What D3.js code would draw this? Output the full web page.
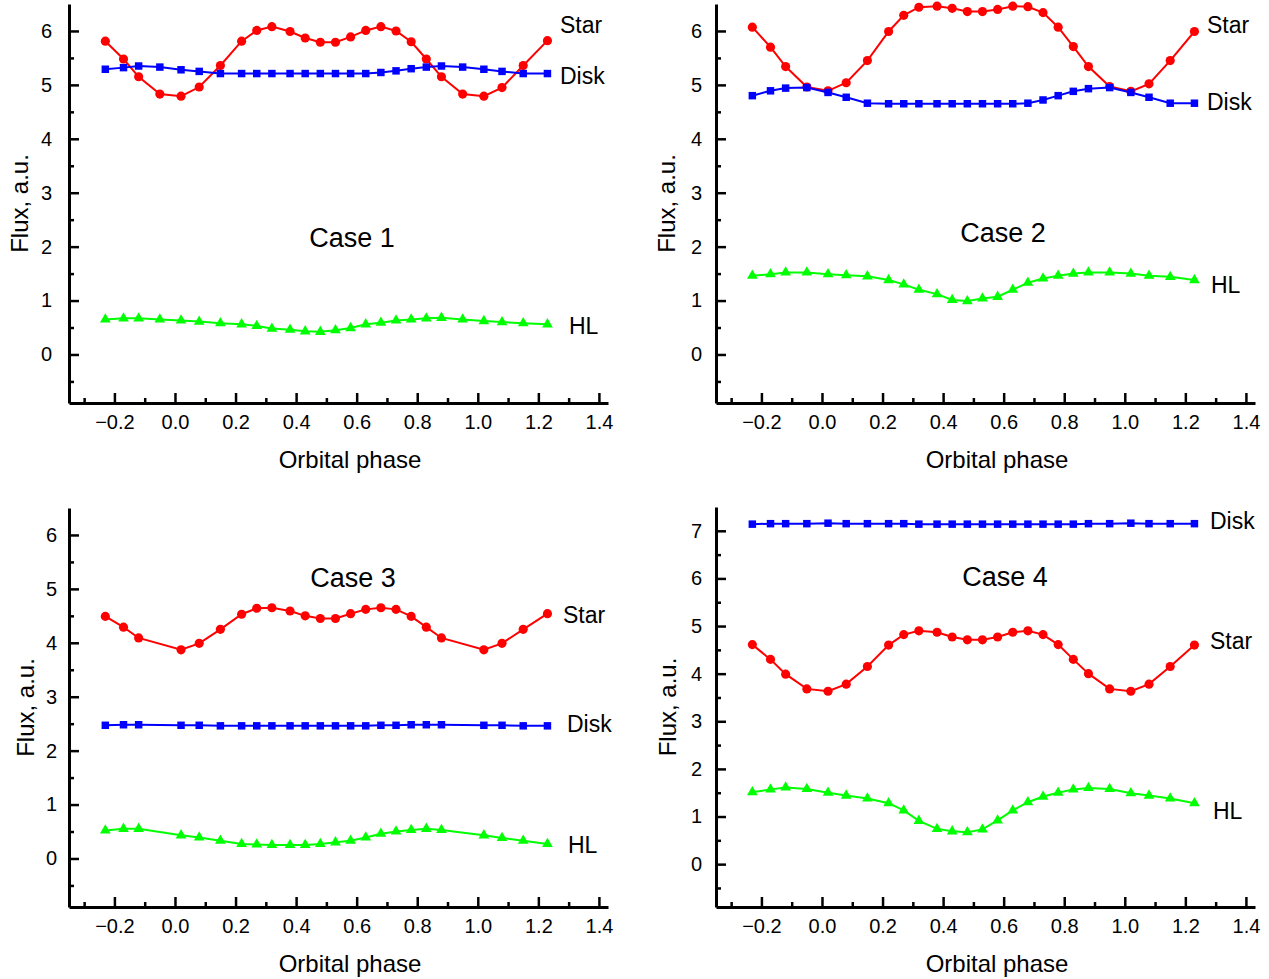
<!DOCTYPE html>
<html>
<head>
<meta charset="utf-8">
<script src="https://cdn.jsdelivr.net/npm/d3@7"></script>
<style>
  html, body { margin: 0; padding: 0; background: #fff; }
  svg { display: block; font-family: "Liberation Sans", Arial, sans-serif; }
</style>
</head>
<body>
<svg id="chart" width="1269" height="979"></svg>
<script>
// ---------------- DATA ----------------
const phase = [-0.23, -0.17, -0.12, -0.05, 0.02, 0.08, 0.15, 0.22, 0.27, 0.32, 0.38, 0.43, 0.48,
               0.53, 0.58, 0.63, 0.68, 0.73, 0.78, 0.83, 0.88, 0.95, 1.02, 1.08, 1.15, 1.23];

const xTicks = [-0.2, 0.0, 0.2, 0.4, 0.6, 0.8, 1.0, 1.2, 1.4];
const yTicks6 = [0, 1, 2, 3, 4, 5, 6];
const yTicks7 = [0, 1, 2, 3, 4, 5, 6, 7];

const seriesNames = ["Star", "Disk", "HL"];
const caseTitles = ["Case 1", "Case 2", "Case 3", "Case 4"];
const xTitle = "Orbital phase";
const yTitle = "Flux, a.u.";

// Case 1
const star1 = [5.81, 5.48, 5.15, 4.83, 4.79, 4.96, 5.36, 5.81, 6.01, 6.08, 5.99, 5.87, 5.79,
               5.79, 5.89, 6.01, 6.08, 6.00, 5.80, 5.48, 5.15, 4.83, 4.79, 4.95, 5.36, 5.82];
const disk1 = [5.29, 5.32, 5.35, 5.33, 5.28, 5.25, 5.21, 5.21, 5.21, 5.21, 5.21, 5.21, 5.21,
               5.21, 5.21, 5.21, 5.23, 5.26, 5.30, 5.33, 5.35, 5.33, 5.29, 5.25, 5.21, 5.21];
const hl1   = [0.65, 0.67, 0.67, 0.65, 0.63, 0.61, 0.58, 0.56, 0.53, 0.48, 0.46, 0.43, 0.42,
               0.45, 0.49, 0.56, 0.59, 0.63, 0.65, 0.67, 0.68, 0.65, 0.62, 0.60, 0.58, 0.56];

// Case 2
const star2 = [6.07, 5.70, 5.34, 4.96, 4.89, 5.04, 5.45, 5.99, 6.29, 6.44, 6.46, 6.42, 6.36,
               6.36, 6.40, 6.46, 6.45, 6.34, 6.07, 5.71, 5.34, 4.97, 4.88, 5.02, 5.45, 5.99];
const disk2 = [4.80, 4.89, 4.94, 4.95, 4.86, 4.77, 4.66, 4.65, 4.65, 4.65, 4.65, 4.65, 4.65,
               4.65, 4.65, 4.65, 4.66, 4.72, 4.80, 4.88, 4.93, 4.95, 4.86, 4.77, 4.66, 4.66];
const hl2   = [1.46, 1.49, 1.52, 1.52, 1.49, 1.47, 1.45, 1.38, 1.30, 1.20, 1.12, 1.01, 0.99,
               1.04, 1.07, 1.20, 1.33, 1.41, 1.46, 1.50, 1.52, 1.52, 1.50, 1.46, 1.44, 1.38];

// Case 3 (no points at phases -0.05 and 0.95)
const star3 = [4.49, 4.29, 4.09, null, 3.87, 3.99, 4.25, 4.53, 4.64, 4.65, 4.59, 4.50, 4.45,
               4.45, 4.54, 4.62, 4.65, 4.62, 4.49, 4.29, 4.09, null, 3.87, 3.99, 4.25, 4.54];
const disk3 = [2.47, 2.48, 2.48, null, 2.47, 2.47, 2.46, 2.46, 2.46, 2.46, 2.46, 2.46, 2.46,
               2.46, 2.46, 2.46, 2.47, 2.47, 2.48, 2.48, 2.48, null, 2.47, 2.47, 2.46, 2.46];
const hl3   = [0.52, 0.55, 0.55, null, 0.43, 0.39, 0.33, 0.27, 0.26, 0.25, 0.25, 0.25, 0.27,
               0.30, 0.33, 0.39, 0.46, 0.50, 0.53, 0.55, 0.53, null, 0.43, 0.38, 0.33, 0.27];

// Case 4
const star4 = [4.61, 4.30, 3.99, 3.68, 3.63, 3.78, 4.15, 4.60, 4.82, 4.90, 4.87, 4.77, 4.71,
               4.71, 4.77, 4.87, 4.90, 4.82, 4.61, 4.30, 4.00, 3.68, 3.63, 3.78, 4.15, 4.60];
const disk4 = [7.14, 7.15, 7.15, 7.15, 7.16, 7.15, 7.15, 7.15, 7.15, 7.14, 7.14, 7.14, 7.14,
               7.14, 7.14, 7.14, 7.14, 7.14, 7.14, 7.14, 7.15, 7.15, 7.16, 7.15, 7.15, 7.15];
const hl4   = [1.51, 1.57, 1.61, 1.58, 1.50, 1.44, 1.38, 1.28, 1.13, 0.91, 0.74, 0.69, 0.67,
               0.73, 0.92, 1.13, 1.30, 1.42, 1.50, 1.57, 1.60, 1.58, 1.49, 1.44, 1.38, 1.28];

// ---------------- LAYOUT ----------------
const colors = { Star: "#ff0000", Disk: "#0000ff", HL: "#00ff00" };

const panels = [
  { title: caseTitles[0], data: { Star: star1, Disk: disk1, HL: hl1 }, yTicks: yTicks6,
    yDom: [-0.9, 6.5], box: { l: 69, r: 608, t: 4, b: 403 }, ylabOff: 17, ytitleX: 20,
    titlePos: [352, 238], labels: { Star: [560, 25], Disk: [560, 76], HL: [569, 326] } },
  { title: caseTitles[1], data: { Star: star2, Disk: disk2, HL: hl2 }, yTicks: yTicks6,
    yDom: [-0.9, 6.5], box: { l: 716, r: 1255, t: 4, b: 403 }, ylabOff: 14, ytitleX: 667,
    titlePos: [1003, 233], labels: { Star: [1207, 25], Disk: [1207, 102], HL: [1211, 285] } },
  { title: caseTitles[2], data: { Star: star3, Disk: disk3, HL: hl3 }, yTicks: yTicks6,
    yDom: [-0.9, 6.5], box: { l: 69, r: 608, t: 508, b: 907 }, ylabOff: 12, ytitleX: 26,
    titlePos: [353, 578], labels: { Star: [563, 615], Disk: [567, 724], HL: [568, 845] } },
  { title: caseTitles[3], data: { Star: star4, Disk: disk4, HL: hl4 }, yTicks: yTicks7,
    yDom: [-0.9, 7.5], box: { l: 716, r: 1255, t: 507, b: 907 }, ylabOff: 14, ytitleX: 668,
    titlePos: [1005, 577], labels: { Disk: [1210, 521], Star: [1210, 641], HL: [1213, 811] } }
];

const svg = d3.select("#chart");

const symbols = {
  Star: d3.symbol().type(d3.symbolCircle).size(66),
  Disk: d3.symbol().type(d3.symbolSquare).size(56),
  HL: d3.symbol().type(d3.symbolTriangle).size(50)
};

panels.forEach(p => {
  const g = svg.append("g");
  const x = d3.scaleLinear().domain([-0.35, 1.43]).range([p.box.l, p.box.r]);
  const y = d3.scaleLinear().domain(p.yDom).range([p.box.b, p.box.t]);

  // minor ticks
  const xMinor = d3.range(-3, 14, 2).map(v => v / 10);
  const yMinor = d3.range(-1, p.yTicks[p.yTicks.length - 1] * 2, 2).map(v => v / 2);

  const gxMinor = g.append("g").attr("transform", `translate(0,${p.box.b})`)
    .call(d3.axisBottom(x).tickValues(xMinor).tickSize(-5).tickFormat(""));
  gxMinor.select(".domain").remove();
  const gyMinor = g.append("g").attr("transform", `translate(${p.box.l},0)`)
    .call(d3.axisLeft(y).tickValues(yMinor).tickSize(-5).tickFormat(""));
  gyMinor.select(".domain").remove();

  const gx = g.append("g").attr("transform", `translate(0,${p.box.b})`)
    .call(d3.axisBottom(x).tickValues(xTicks).tickSizeInner(-10).tickSizeOuter(0)
      .tickPadding(12).tickFormat(d3.format(".1f")));
  const gy = g.append("g").attr("transform", `translate(${p.box.l},0)`)
    .call(d3.axisLeft(y).tickValues(p.yTicks).tickSizeInner(-10).tickSizeOuter(0)
      .tickPadding(p.ylabOff).tickFormat(d3.format("d")));

  [gx, gy, gxMinor, gyMinor].forEach(a => {
    a.selectAll("path, line").attr("stroke", "#000").attr("stroke-width", 2.5);
    a.selectAll("text").attr("fill", "#000").attr("font-size", 20)
      .attr("font-family", '"Liberation Sans", Arial, sans-serif');
  });
  gx.select(".domain").attr("stroke-width", 3);
  gy.select(".domain").attr("stroke-width", 3);

  // axis titles
  g.append("text").attr("x", (p.box.l + 281)).attr("y", p.box.b + 65)
    .attr("text-anchor", "middle").attr("font-size", 24).text(xTitle);
  g.append("text")
    .attr("transform", `translate(${p.ytitleX},${(p.box.t + p.box.b) / 2}) rotate(-90)`)
    .attr("text-anchor", "middle").attr("dy", "0.35em").attr("font-size", 24).text(yTitle);

  // case title
  g.append("text").attr("x", p.titlePos[0]).attr("y", p.titlePos[1]).attr("dy", "0.35em")
    .attr("text-anchor", "middle").attr("font-size", 27).text(p.title);

  // series
  seriesNames.forEach(name => {
    const pts = phase.map((ph, i) => ({ ph, v: p.data[name][i] })).filter(d => d.v !== null);
    const line = d3.line().x(d => x(d.ph)).y(d => y(d.v));
    g.append("path").datum(pts).attr("d", line).attr("fill", "none")
      .attr("stroke", colors[name]).attr("stroke-width", 2);
    g.selectAll(null).data(pts).enter().append("path")
      .attr("d", symbols[name])
      .attr("transform", d => `translate(${x(d.ph)},${y(d.v)})`)
      .attr("fill", colors[name]);
    const lp = p.labels[name];
    g.append("text").attr("x", lp[0]).attr("y", lp[1]).attr("dy", "0.35em")
      .attr("font-size", 23).text(name);
  });
});
</script>
</body>
</html>
